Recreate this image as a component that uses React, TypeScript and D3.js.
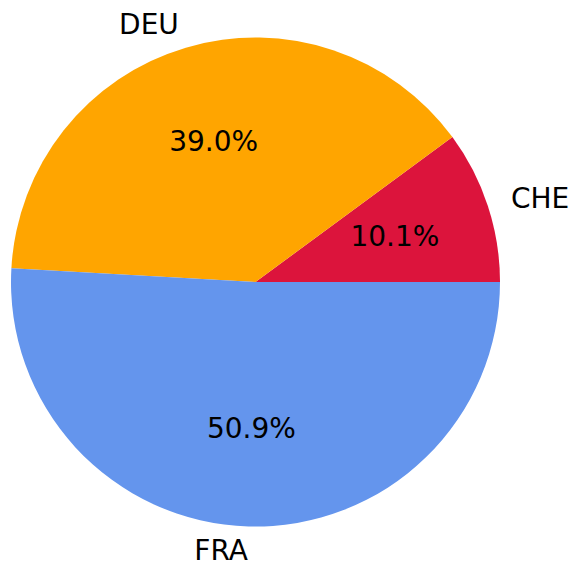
import React from "react";
import * as d3 from "d3";

const categories = ["CHE", "DEU", "FRA"];
const values = [10.1, 39.0, 50.9];
const colors = ["#DC143C", "#FFA500", "#6495ED"];

const W = 573;
const H = 564;
const cx = 255.5;
const cy = 282;
const R = 244.5;
const FONT = "'DejaVu Sans', sans-serif";

export default function App() {
  const pie = d3
    .pie<number>()
    .sort(null)
    .value((d) => d)
    .startAngle(Math.PI / 2)
    .endAngle(Math.PI / 2 - 2 * Math.PI);
  const arcs = pie(values);
  const arcGen = d3.arc<d3.PieArcDatum<number>>().innerRadius(0).outerRadius(R);
  const total = d3.sum(values);

  return (
    <svg
      width={W}
      height={H}
      style={{ position: "absolute", left: 0, top: 0, background: "#fff" }}
    >
      <g transform={`translate(${cx},${cy})`}>
        {arcs.map((a, i) => (
          <path key={i} d={arcGen(a) || ""} fill={colors[i]} />
        ))}
        {arcs.map((a, i) => {
          const mid = (a.startAngle + a.endAngle) / 2;
          const sx = Math.sin(mid);
          const sy = -Math.cos(mid);
          const lx = 1.1 * R * sx;
          const ly = 1.1 * R * sy;
          const px = 0.6 * R * sx;
          const py = 0.6 * R * sy;
          return (
            <g key={"t" + i} fontFamily={FONT} fontSize={28} fill="#000">
              <text
                x={lx}
                y={ly}
                textAnchor={lx > 0 ? "start" : "end"}
                dominantBaseline="central"
              >
                {categories[i]}
              </text>
              <text x={px} y={py} textAnchor="middle" dominantBaseline="central">
                {((a.value / total) * 100).toFixed(1) + "%"}
              </text>
            </g>
          );
        })}
      </g>
    </svg>
  );
}
